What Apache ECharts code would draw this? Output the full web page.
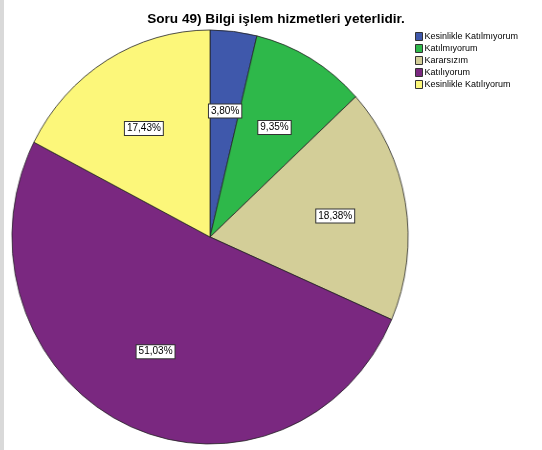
<!DOCTYPE html>
<html>
<head>
<meta charset="utf-8">
<script src="https://cdn.jsdelivr.net/npm/echarts@6/dist/echarts.min.js"></script>
<style>
html,body{margin:0;padding:0;background:#fff;}
.content{width:542px;height:450px;position:relative;}
.strip{position:absolute;left:0;top:0;width:4px;height:450px;background:#d9d9d9;}
/* SPSS pastasi biraz basik, yatayda sikistiriyoruz */
#pie{position:absolute;left:0;top:0;width:542px;height:450px;transform:scaleX(0.957);transform-origin:210px 237px;}
#c49{position:absolute;left:0;top:0;width:542px;height:450px;}
</style>
</head>
<body>
<div class="content">
  <div id="pie"></div>
  <div id="c49"></div>
  <div class="strip"></div>
</div>
<script type="text/javascript">
// Soru 49 verileri
var names = ['Kesinlikle Katılmıyorum', 'Katılmıyorum', 'Kararsızım', 'Katılıyorum', 'Kesinlikle Katılıyorum'];
var percents = [3.80, 9.35, 18.38, 51.03, 17.43];
var color = ['#3F58AB', '#2EB84A', '#D3CE98', '#7A2880', '#FCF77A'];

var seriesData = [];
var legendData = [];
for (var i = 0; i < names.length; ++i) {
  seriesData.push({ name: names[i], value: percents[i] });
  legendData.push({ name: names[i], itemStyle: { color: color[i], borderColor: '#333', borderWidth: 1 } });
}

// pasta dilimleri
var pieChart = echarts.init(document.getElementById('pie'));
pieChart.setOption({
  color: color,
  animation: false,
  series: [
    {
      name: 'Soru 49',
      type: 'pie',
      radius: ['0', 207],
      center: [210, 237],
      startAngle: 90,
      clockwise: true,
      label: { show: false },
      labelLine: { show: false },
      itemStyle: { borderColor: '#222', borderWidth: 0.8 },
      emphasis: { disabled: true },
      data: seriesData
    }
  ]
});

// baslik, lejant ve yuzde etiketleri
var chart = echarts.init(document.getElementById('c49'));
var option = {
  color: color,
  animation: false,
  title: {
    text: 'Soru 49) Bilgi işlem hizmetleri yeterlidir.',
    left: 271,
    top: 7,
    textAlign: 'center',
    textStyle: {
      fontFamily: 'Liberation Sans',
      fontSize: 13.6,
      fontWeight: 'bold',
      color: '#000'
    }
  },
  legend: {
    orient: 'vertical',
    left: 410,
    top: 27,
    itemWidth: 7,
    itemHeight: 8,
    itemGap: 3,
    icon: 'rect',
    textStyle: {
      fontFamily: 'Liberation Sans',
      fontSize: 9,
      lineHeight: 9,
      color: '#000',
      padding: [0, 0, 0, -3]
    },
    data: legendData
  },
  series: [
    {
      // sadece etiketler icin saydam katman
      name: 'etiket',
      type: 'pie',
      radius: ['0', 248],
      center: [210, 237],
      startAngle: 90,
      silent: true,
      legendHoverLink: false,
      itemStyle: { color: 'rgba(0,0,0,0)', borderWidth: 0 },
      labelLine: { show: false },
      label: {
        show: true,
        position: 'inside',
        fontFamily: 'Liberation Sans',
        fontSize: 10,
        color: '#000',
        backgroundColor: '#fff',
        borderColor: '#333',
        borderWidth: 1,
        padding: [2, 2, 1, 2],
        formatter: function (p) {
          return p.value.toFixed(2).replace('.', ',') + '%';
        }
      },
      emphasis: { disabled: true },
      data: seriesData
    }
  ]
};
chart.setOption(option);
</script>
</body>
</html>
